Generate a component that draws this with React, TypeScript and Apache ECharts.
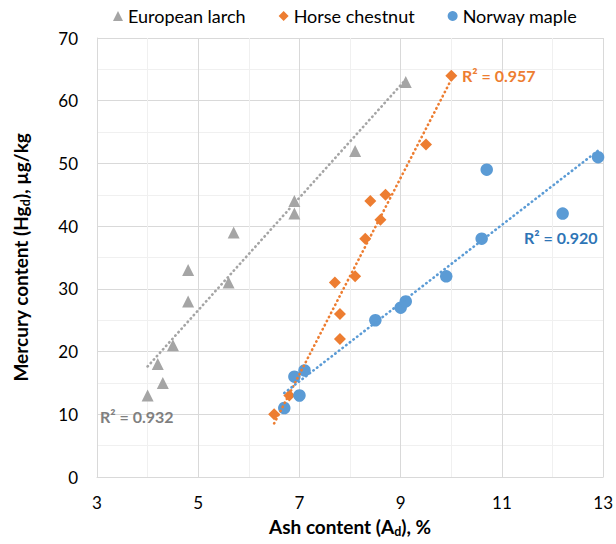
import React, { useEffect, useRef } from "react";
import * as echarts from "echarts";

// Ash content (A_d, %) and mercury content (Hg_d, µg/kg) per wood species
const larchAsh = [4.0, 4.2, 4.3, 4.5, 4.8, 4.8, 5.6, 5.7, 6.9, 6.9, 8.1, 9.1];
const larchHg = [13, 18, 15, 21, 28, 33, 31, 39, 42, 44, 52, 63];

const chestnutAsh = [6.5, 6.8, 7.8, 7.8, 7.7, 8.1, 8.3, 8.6, 8.4, 8.7, 9.5, 10.0];
const chestnutHg = [10, 13, 22, 26, 31, 32, 38, 41, 44, 45, 53, 64];

const mapleAsh = [6.7, 6.9, 7.0, 7.1, 8.5, 9.0, 9.1, 9.9, 10.6, 10.7, 12.2, 12.9];
const mapleHg = [11, 16, 13, 17, 25, 27, 28, 32, 38, 49, 42, 51];

const speciesNames = ["European larch", "Horse chestnut", "Norway maple"];
const rSquaredLabels = ["R² = 0.932", "R² = 0.957", "R² = 0.920"];

const FONT = "Lato, 'Open Sans', 'DejaVu Sans', sans-serif";
const GRAY = "#A5A5A5";
const ORANGE = "#ED7D31";
const BLUE = "#5B9BD5";

const pairs = (xs: number[], ys: number[]) => xs.map((x, i) => [x, ys[i]]);

// least-squares line across the x-range of the data
function trend(xs: number[], ys: number[]) {
  const n = xs.length;
  const mx = xs.reduce((a, b) => a + b, 0) / n;
  const my = ys.reduce((a, b) => a + b, 0) / n;
  let sxy = 0;
  let sxx = 0;
  for (let i = 0; i < n; i++) {
    sxy += (xs[i] - mx) * (ys[i] - my);
    sxx += (xs[i] - mx) * (xs[i] - mx);
  }
  const slope = sxy / sxx;
  const icpt = my - slope * mx;
  const x0 = Math.min(...xs);
  const x1 = Math.max(...xs);
  return [
    [x0, icpt + slope * x0],
    [x1, icpt + slope * x1],
  ];
}

const trendSeries = (name: string, data: number[][], color: string) => ({
  name,
  type: "line",
  data,
  showSymbol: false,
  symbol: "none",
  silent: true,
  z: 5,
  lineStyle: { color, width: 2.6, type: [0.4, 4.2], cap: "round" },
});

const scatterSeries = (
  name: string,
  data: number[][],
  color: string,
  symbol: string,
  size: number
) => ({
  name,
  type: "scatter",
  data,
  symbol,
  symbolSize: size,
  itemStyle: { color, opacity: 1 },
  z: 3,
});

// bold axis titles with a lowered subscript
const nameRich = {
  b: { fontFamily: FONT, fontSize: 19, fontWeight: "bold", color: "#000", lineHeight: 24 },
  s: {
    fontFamily: FONT,
    fontSize: 12.5,
    fontWeight: "bold",
    color: "#000",
    lineHeight: 12,
    verticalAlign: "bottom",
  },
};

export default function App() {
  const ref = useRef<HTMLDivElement>(null);

  useEffect(() => {
    if (!ref.current) return;
    const chart = echarts.init(ref.current, undefined, { renderer: "svg" });

    const axisLabel = { fontFamily: FONT, fontSize: 17, color: "#000" };
    const majorLine = { show: true, lineStyle: { color: "#D9D9D9", width: 1 } };
    const minorLine = { show: true, lineStyle: { color: "#F0F0F0", width: 1 } };

    chart.setOption({
      animation: false,
      backgroundColor: "#fff",
      grid: { left: 97, right: 11, top: 38, bottom: 67, containLabel: false },
      legend: {
        data: speciesNames,
        left: 108,
        top: 2,
        itemWidth: 10,
        itemHeight: 10,
        itemGap: 33,
        textStyle: { fontFamily: FONT, fontSize: 18, color: "#000" },
      },
      xAxis: {
        type: "value",
        min: 3,
        max: 13,
        interval: 2,
        name: "{b|Ash content (A}{s|d}{b|), %}",
        nameLocation: "middle",
        nameGap: 37,
        nameTextStyle: { rich: nameRich },
        axisLine: { show: true, lineStyle: { color: "#D9D9D9" } },
        axisTick: { show: false },
        axisLabel: { ...axisLabel, margin: 17 },
        splitLine: majorLine,
        minorTick: { show: false, splitNumber: 2 },
        minorSplitLine: minorLine,
      },
      yAxis: {
        type: "value",
        min: 0,
        max: 70,
        interval: 10,
        name: "{b|Mercury content (Hg}{s|d}{b|), µg/kg}",
        nameLocation: "middle",
        nameGap: 65,
        nameRotate: 90,
        nameTextStyle: { rich: nameRich },
        axisLine: { show: true, lineStyle: { color: "#D9D9D9" } },
        axisTick: { show: false },
        axisLabel: { ...axisLabel, margin: 19 },
        splitLine: majorLine,
        minorTick: { show: false, splitNumber: 2 },
        minorSplitLine: minorLine,
      },
      series: [
        scatterSeries(speciesNames[0], pairs(larchAsh, larchHg), GRAY, "triangle", 12),
        scatterSeries(speciesNames[1], pairs(chestnutAsh, chestnutHg), ORANGE, "diamond", 12),
        scatterSeries(speciesNames[2], pairs(mapleAsh, mapleHg), BLUE, "circle", 12.5),
        trendSeries("larch trend", trend(larchAsh, larchHg), GRAY),
        trendSeries("chestnut trend", trend(chestnutAsh, chestnutHg), ORANGE),
        trendSeries("maple trend", trend(mapleAsh, mapleHg), BLUE),
      ],
      graphic: [
        {
          type: "text",
          left: 100,
          top: 408,
          style: { text: rSquaredLabels[0], font: `bold 16px ${FONT}`, fill: "#7F7F7F" },
          z: 10,
        },
        {
          type: "text",
          left: 462,
          top: 67,
          style: { text: rSquaredLabels[1], font: `bold 16px ${FONT}`, fill: ORANGE },
          z: 10,
        },
        {
          type: "text",
          left: 524,
          top: 229,
          style: { text: rSquaredLabels[2], font: `bold 16px ${FONT}`, fill: "#2E75B6" },
          z: 10,
        },
      ],
    });

    return () => chart.dispose();
  }, []);

  return (
    <div
      ref={ref}
      style={{ position: "fixed", left: 0, top: 0, width: 616, height: 544, background: "#fff" }}
    />
  );
}
